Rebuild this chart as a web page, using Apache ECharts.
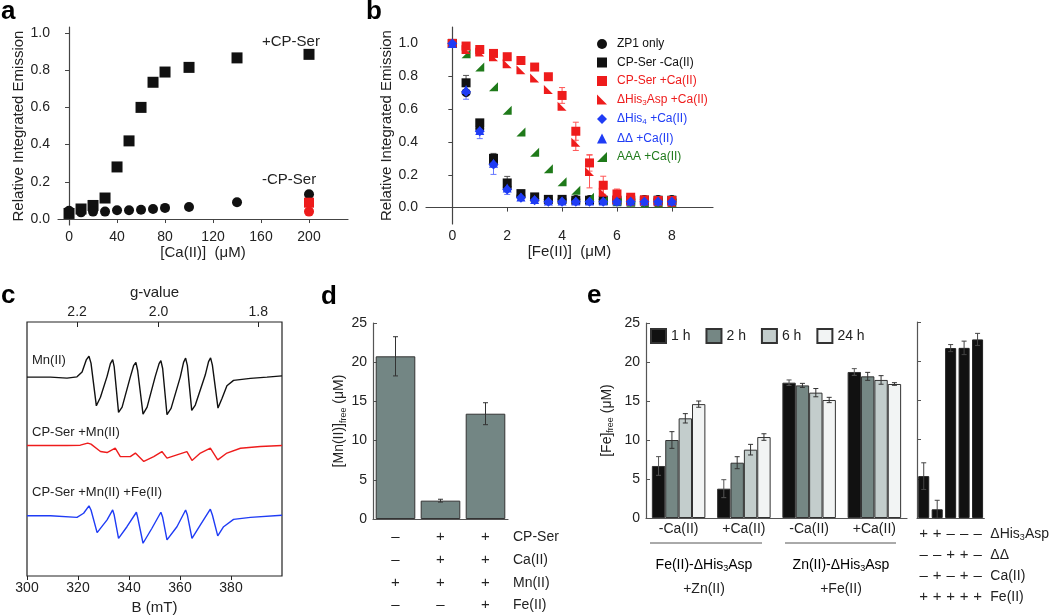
<!DOCTYPE html>
<html>
<head>
<meta charset="utf-8">
<script src="https://cdn.jsdelivr.net/npm/echarts@6/dist/echarts.min.js"></script>
<style>
  html, body { margin: 0; padding: 0; background: #fff; }
  #chart { width: 1050px; height: 616px; }
</style>
</head>
<body>
<div id="chart"></div>
<script>
// ---- panel a: Ca(II) titration ----
const caConc = [0, 10, 20, 30, 40, 50, 60, 70, 80, 100, 140, 200];
const plusCP = [0.03, 0.054, 0.073, 0.113, 0.28, 0.42, 0.60, 0.735, 0.79, 0.815, 0.866, 0.885];
const minusCP = [0.045, 0.036, 0.04, 0.04, 0.047, 0.047, 0.05, 0.054, 0.06, 0.065, 0.09, 0.133];
const redConc = [200];
const redSquare = [0.088];
const redCircle = [0.04];

// ---- panel b: Fe(II) titration ----
const feConc = [0, 0.5, 1, 1.5, 2, 2.5, 3, 3.5, 4, 4.5, 5, 5.5, 6, 6.5, 7, 7.5, 8];
const zp1Only = [1, 0.70, 0.48, 0.27, 0.12, 0.07, 0.055, 0.05, 0.05, 0.05, 0.05, 0.05, 0.05, 0.05, 0.05, 0.05, 0.05];
const cpSerNoCa = [1, 0.76, 0.516, 0.30, 0.15, 0.085, 0.065, 0.05, 0.05, 0.045, 0.045, 0.045, 0.045, 0.045, 0.045, 0.045, 0.045];
const cpSerCa = [1, 0.984, 0.963, 0.939, 0.919, 0.896, 0.856, 0.797, 0.683, 0.465, 0.272, 0.136, 0.083, 0.063, 0.047, 0.043, 0.043];
const his3AspCa = [1, 0.963, 0.947, 0.919, 0.876, 0.84, 0.789, 0.72, 0.618, 0.398, 0.22, 0.093, 0.047, 0.039, 0.039, 0.035, 0.033];
const his4Ca = [1, 0.705, 0.465, 0.262, 0.11, 0.06, 0.045, 0.035, 0.035, 0.035, 0.035, 0.035, 0.035, 0.035, 0.035, 0.035, 0.035];
const ddCa = [1, 0.72, 0.47, 0.27, 0.12, 0.065, 0.05, 0.04, 0.04, 0.04, 0.04, 0.04, 0.04, 0.04, 0.04, 0.04, 0.04];
const aaaCa = [1, 0.937, 0.856, 0.736, 0.593, 0.461, 0.337, 0.236, 0.157, 0.106, 0.063, 0.043, 0.035, 0.033, 0.028, 0.028, 0.028];
const errNoCa = [0, 0.045, 0.02, 0.03, 0.04, 0, 0, 0, 0, 0, 0, 0, 0, 0, 0, 0, 0];
const errHis4 = [0, 0.045, 0.045, 0.06, 0.03, 0, 0, 0, 0, 0, 0, 0, 0, 0, 0, 0, 0];
const errCpCa = [0, 0, 0, 0, 0, 0, 0, 0, 0.048, 0.055, 0.05, 0.055, 0.03, 0.02, 0, 0, 0];
const errHis3 = [0, 0, 0, 0, 0, 0, 0, 0, 0, 0.05, 0.1, 0.02, 0, 0, 0, 0, 0];

// ---- panel c: EPR traces [B (mT), signal] ----
const mnTrace = [[300,78.3],[309.2,78.3],[315.7,77.9],[319.6,78.4],[321.6,80.3],[323.3,85.2],[324.3,86.5],[325.1,83.8],[327.2,67.0],[328.8,70.4],[331.4,78.6],[332.7,83.6],[333.6,85.2],[334.2,82.3],[335.9,64.4],[337.3,66.5],[340.5,78.3],[341.8,82.8],[342.7,84.1],[343.4,80.9],[345.5,63.7],[347.1,66.5],[350.3,78.6],[351.8,83.6],[352.5,84.8],[353.2,81.7],[354.9,63.5],[356.5,66.0],[360.1,78.3],[361.4,84.1],[362.2,85.8],[362.9,82.8],[364.6,65.2],[366.0,67.3],[369.9,79.1],[371.2,84.4],[372.0,85.9],[372.7,83.0],[374.9,66.1],[376.5,70.0],[378.4,74.9],[381.0,77.0],[387.6,77.8],[394.1,78.3],[400,78.8]];
const cpMnTrace = [[300,51.4],[315.7,51.4],[320.9,51.5],[323.8,52.3],[325.1,51.9],[328.8,49.0],[331.4,48.6],[334.6,50.3],[336.6,47.0],[340.5,47.0],[342.5,48.4],[345.8,45.1],[349.7,47.0],[352.9,49.0],[354.9,46.4],[358.8,47.7],[362.7,49.0],[364.7,45.5],[368.0,48.4],[371.9,50.3],[374.8,45.7],[378.4,48.4],[383.7,50.3],[391.5,51.0],[400,51.4]];
const cpMnFeTrace = [[300,23.7],[309.2,23.7],[319.6,23.1],[322.2,24.7],[324.3,27.6],[325.1,26.0],[327.5,17.1],[331.4,22.1],[333.6,26.0],[334.2,24.0],[335.9,14.8],[339.2,19.4],[342.9,25.1],[343.4,23.1],[345.5,12.9],[349.0,18.8],[352.5,25.1],[353.2,23.1],[354.9,14.2],[358.8,19.4],[362.2,26.0],[362.9,24.0],[364.7,14.8],[368.0,20.1],[371.9,26.3],[372.7,24.0],[374.8,15.8],[377.1,19.4],[381.0,22.3],[387.6,23.1],[400,23.9]];
const bTicks = [300, 320, 340, 360, 380];
const gTicks = [2.2, 2.0, 1.8];
const hvConst = 703.2; // B(mT) * g

// ---- panel d ----
const mnFree = [20.75, 2.34, 13.43];
const mnErr = [2.5, 0.18, 1.4];
const dRowNames = ['CP-Ser', 'Ca(II)', 'Mn(II)', 'Fe(II)'];
const dRows = [['–', '+', '+'], ['–', '+', '+'], ['+', '+', '+'], ['–', '–', '+']];

// ---- panel e ----
const eCats = ['-Ca(II)', '+Ca(II)', '-Ca(II)', '+Ca(II)'];
const eTimes = ['1 h', '2 h', '6 h', '24 h'];
const fe1h = [6.67, 3.76, 17.35, 18.72];
const fe2h = [10.0, 7.09, 17.0, 18.16];
const fe6h = [12.78, 8.76, 16.07, 17.7];
const fe24h = [14.6, 10.38, 15.13, 17.18];
const err1h = [1.2, 1.15, 0.35, 0.43];
const err2h = [1.07, 0.77, 0.26, 0.51];
const err6h = [0.6, 0.68, 0.53, 0.55];
const err24h = [0.4, 0.42, 0.34, 0.17];
const feRight = [5.34, 1.11, 21.67, 21.7, 22.78];
const feRightErr = [1.7, 1.15, 0.45, 0.86, 0.77];
const eRowNames = ['{n|ΔHis}{s|3}{n|Asp}', 'ΔΔ', 'Ca(II)', 'Fe(II)'];
const eRows = [['+', '+', '–', '–', '–'], ['–', '–', '+', '+', '–'], ['–', '+', '–', '+', '–'], ['+', '+', '+', '+', '+']];

const FONT = '"Liberation Sans", Arial, sans-serif';
const TXT = '#222';
const AX = '#444';
const RED = '#ee1c1c';
const BLUE = '#1f3cf5';
const GREEN = '#1f7a1a';
const subRich = {
  n: { fontSize: 14, lineHeight: 16, color: TXT },
  s: { fontSize: 9, lineHeight: 6, verticalAlign: 'bottom', color: TXT }
};

const pairs = (xs, ys) => xs.map((x, i) => [x, ys[i]]);
const triples = (ys, es) => ys.map((y, i) => [i, y, es[i]]);
const triplesX = (xs, ys, es) => xs.map((x, i) => [x, ys[i], es[i]]);

function errRender(nSeries, idx, gapFrac, color, capHalf) {
  return function (params, api) {
    const c = api.value(0), v = api.value(1), e = api.value(2);
    if (!e) return;
    let off = 0;
    if (nSeries > 1) {
      const bw = api.size([1, 0])[0] * (1 - gapFrac) / nSeries;
      off = (idx - (nSeries - 1) / 2) * bw;
    }
    const p1 = api.coord([c, v + e]);
    const p2 = api.coord([c, v - e]);
    const x = p1[0] + off;
    const st = { stroke: color, lineWidth: 1 };
    return {
      type: 'group',
      children: [
        { type: 'line', shape: { x1: x, y1: p1[1], x2: x, y2: p2[1] }, style: st },
        { type: 'line', shape: { x1: x - capHalf, y1: p1[1], x2: x + capHalf, y2: p1[1] }, style: st },
        { type: 'line', shape: { x1: x - capHalf, y1: p2[1], x2: x + capHalf, y2: p2[1] }, style: st }
      ]
    };
  };
}

function rowAxis(grid, idx, rows, names, offset, gap) {
  return {
    gridIndex: grid, type: 'category', position: 'bottom', offset: offset,
    data: rows[idx].map((r, i) => String(i)),
    axisLine: { show: false }, axisTick: { show: false }, splitLine: { show: false },
    axisLabel: { margin: 0, verticalAlign: 'middle', fontSize: 15, color: TXT, formatter: (v, i) => rows[idx][i] },
    name: names[idx], nameLocation: 'end', nameGap: gap,
    nameTextStyle: { fontSize: 14, color: TXT, verticalAlign: 'middle', align: 'left', rich: subRich }
  };
}

function dot(name, xi, yi, symbol, size, color, data) {
  return { type: 'scatter', name: name, xAxisIndex: xi, yAxisIndex: yi, symbol: symbol, symbolSize: size,
    itemStyle: { color: color, opacity: 1 }, data: data };
}

const triLeft = 'path://M0,0 L0,10 L10,10 Z';
const triRight = 'path://M10,0 L10,10 L0,10 Z';

const chart = echarts.init(document.getElementById('chart'));
const option = {
  animation: false,
  backgroundColor: '#fff',
  textStyle: { fontFamily: FONT },
  grid: [
    { left: 58, top: 27, width: 290, height: 198 },
    { left: 426, top: 27, width: 287, height: 197 },
    { left: 27, top: 322, width: 255, height: 254, show: true, borderColor: '#222', borderWidth: 1.2 },
    { left: 373, top: 323, width: 135, height: 196 },
    { left: 646, top: 323, width: 261, height: 195 },
    { left: 917, top: 322, width: 71, height: 196 }
  ],
  xAxis: [
    { // 0 panel a
      gridIndex: 0, type: 'value', min: -9.2, max: 232.5,
      axisLine: { lineStyle: { color: AX, width: 1.2 } },
      axisTick: { length: 4, lineStyle: { color: AX }, customValues: [0, 40, 80, 120, 160, 200] },
      axisLabel: { fontSize: 14, color: TXT, margin: 5, customValues: [0, 40, 80, 120, 160, 200] },
      splitLine: { show: false },
      name: '[Ca(II)]  (μM)', nameLocation: 'middle', nameGap: 17, nameTextStyle: { fontSize: 15, color: TXT }
    },
    { // 1 panel b
      gridIndex: 1, type: 'value', min: -0.96, max: 9.5,
      axisLine: { lineStyle: { color: AX, width: 1.2 } },
      axisTick: { length: 4, lineStyle: { color: AX }, customValues: [0, 2, 4, 6, 8] },
      axisLabel: { fontSize: 14, color: TXT, margin: 5, customValues: [0, 2, 4, 6, 8] },
      splitLine: { show: false },
      name: '[Fe(II)]  (μM)', nameLocation: 'middle', nameGap: 17, nameTextStyle: { fontSize: 15, color: TXT }
    },
    { // 2 panel c bottom
      gridIndex: 2, type: 'value', min: 300, max: 400,
      axisLine: { show: false },
      axisTick: { length: 4, lineStyle: { color: '#222' }, customValues: bTicks },
      axisLabel: { fontSize: 14, color: TXT, margin: 5, customValues: bTicks },
      splitLine: { show: false },
      name: 'B (mT)', nameLocation: 'middle', nameGap: 24, nameTextStyle: { fontSize: 15, color: TXT }
    },
    { // 3 panel c top (g-value)
      gridIndex: 2, type: 'value', min: 300, max: 400, position: 'top',
      axisLine: { show: false },
      axisTick: { inside: true, length: 5, lineStyle: { color: '#222' }, customValues: gTicks.map(g => hvConst / g) },
      axisLabel: { fontSize: 14, color: TXT, margin: 3, customValues: gTicks.map(g => hvConst / g), formatter: v => (hvConst / v).toFixed(1) },
      splitLine: { show: false },
      name: 'g-value', nameLocation: 'middle', nameGap: 22, nameTextStyle: { fontSize: 15, color: TXT }
    },
    { // 4 panel d
      gridIndex: 3, type: 'category', data: ['0', '1', '2'],
      axisLine: { lineStyle: { color: '#555', width: 1.2 } }, axisTick: { show: false }, axisLabel: { show: false }
    },
    rowAxis(3, 0, dRows, dRowNames, 17.7, 5),
    rowAxis(3, 1, dRows, dRowNames, 41, 5),
    rowAxis(3, 2, dRows, dRowNames, 64.3, 5),
    rowAxis(3, 3, dRows, dRowNames, 86, 5),
    { // 9 panel e left
      gridIndex: 4, type: 'category', data: eCats.map((c, i) => String(i)),
      axisLine: { lineStyle: { color: '#555', width: 1.2 } }, axisTick: { show: false },
      axisLabel: { fontSize: 14, color: TXT, margin: 4, formatter: (v, i) => eCats[i] }
    },
    { // 10 panel e right
      gridIndex: 5, type: 'category', data: ['0', '1', '2', '3', '4'],
      axisLine: { lineStyle: { color: '#555', width: 1.2 } }, axisTick: { show: false }, axisLabel: { show: false }
    },
    rowAxis(5, 0, eRows, eRowNames, 16.3, 6),
    rowAxis(5, 1, eRows, eRowNames, 37.3, 6),
    rowAxis(5, 2, eRows, eRowNames, 58.3, 6),
    rowAxis(5, 3, eRows, eRowNames, 79.3, 6)
  ],
  yAxis: [
    {
      gridIndex: 0, type: 'value', min: -0.032, max: 1.032,
      axisLine: { show: true, lineStyle: { color: AX, width: 1.2 } },
      axisTick: { show: true, length: 4, lineStyle: { color: AX }, customValues: [0, 0.2, 0.4, 0.6, 0.8, 1.0] },
      axisLabel: { fontSize: 14, color: TXT, margin: 8, customValues: [0, 0.2, 0.4, 0.6, 0.8, 1.0], formatter: v => v.toFixed(1) },
      splitLine: { show: false },
      name: 'Relative Integrated Emission', nameLocation: 'middle', nameGap: 30, nameTextStyle: { fontSize: 15, color: TXT }
    },
    {
      gridIndex: 1, type: 'value', min: -0.1, max: 1.1,
      axisLine: { show: true, lineStyle: { color: AX, width: 1.2 } },
      axisTick: { show: true, length: 4, lineStyle: { color: AX }, customValues: [0, 0.2, 0.4, 0.6, 0.8, 1.0] },
      axisLabel: { fontSize: 14, color: TXT, margin: 8, customValues: [0, 0.2, 0.4, 0.6, 0.8, 1.0], formatter: v => v.toFixed(1) },
      splitLine: { show: false },
      name: 'Relative Integrated Emission', nameLocation: 'middle', nameGap: 30, nameTextStyle: { fontSize: 15, color: TXT }
    },
    { gridIndex: 2, type: 'value', min: 0, max: 100, show: false },
    {
      gridIndex: 3, type: 'value', min: 0, max: 25, interval: 5,
      axisLine: { show: true, lineStyle: { color: '#555', width: 1.2 } },
      axisTick: { show: true, inside: true, length: 4, lineStyle: { color: '#555' } },
      axisLabel: { fontSize: 14, color: TXT, margin: 6 },
      splitLine: { show: false },
      name: '{n|[Mn(II)]}{s|free}{n| (μM)}', nameLocation: 'middle', nameGap: 25,
      nameTextStyle: { rich: subRich }
    },
    {
      gridIndex: 4, type: 'value', min: 0, max: 25, interval: 5,
      axisLine: { show: true, lineStyle: { color: '#555', width: 1.2 } },
      axisTick: { show: true, inside: true, length: 4, lineStyle: { color: '#555' } },
      axisLabel: { fontSize: 14, color: TXT, margin: 6 },
      splitLine: { show: false },
      name: '{n|[Fe]}{s|free}{n| (μM)}', nameLocation: 'middle', nameGap: 31,
      nameTextStyle: { rich: subRich }
    },
    {
      gridIndex: 5, type: 'value', min: 0, max: 25, interval: 5,
      axisLine: { show: true, lineStyle: { color: '#555', width: 1.2 } },
      axisTick: { show: true, inside: true, length: 4, lineStyle: { color: '#555' } },
      axisLabel: { show: false },
      splitLine: { show: false }
    }
  ],
  legend: [
    {
      left: 597, top: 38, orient: 'vertical', padding: 0,
      itemWidth: 10, itemHeight: 10, itemGap: 6.5,
      textStyle: { fontSize: 12, padding: [0, 0, 0, 5], rich: {
        n: { fontSize: 12, lineHeight: 14 },
        s: { fontSize: 8, lineHeight: 5, verticalAlign: 'bottom' }
      } },
      formatter: name => {
        if (name.indexOf('ΔHis3') === 0) return '{n|ΔHis}{s|3}{n|Asp +Ca(II)}';
        if (name.indexOf('ΔHis4') === 0) return '{n|ΔHis}{s|4}{n| +Ca(II)}';
        return '{n|' + name + '}';
      },
      data: [
        { name: 'ZP1 only', icon: 'circle', textStyle: { color: '#111' } },
        { name: 'CP-Ser -Ca(II)', icon: 'rect', textStyle: { color: '#111' } },
        { name: 'CP-Ser +Ca(II)', icon: 'rect', textStyle: { color: RED } },
        { name: 'ΔHis3Asp +Ca(II)', icon: triLeft, textStyle: { color: RED } },
        { name: 'ΔHis4 +Ca(II)', icon: 'diamond', textStyle: { color: BLUE } },
        { name: 'ΔΔ +Ca(II)', icon: 'triangle', textStyle: { color: BLUE } },
        { name: 'AAA +Ca(II)', icon: triRight, textStyle: { color: GREEN } }
      ]
    },
    {
      left: 650, top: 328, orient: 'horizontal', padding: 0,
      itemWidth: 15, itemHeight: 14, itemGap: 15, icon: 'rect',
      textStyle: { fontSize: 14, color: TXT },
      data: eTimes
    }
  ],
  series: [
    // panel a
    dot('a +CP', 0, 0, 'rect', 11, '#111', pairs(caConc, plusCP)),
    dot('a -CP', 0, 0, 'circle', 10, '#111', pairs(caConc, minusCP)),
    dot('a red sq', 0, 0, 'rect', 10, RED, pairs(redConc, redSquare)),
    dot('a red ci', 0, 0, 'circle', 10, RED, pairs(redConc, redCircle)),
    // panel b error bars
    { type: 'custom', name: 'err noCa', xAxisIndex: 1, yAxisIndex: 1, z: 1, renderItem: errRender(1, 0, 0, '#555', 3), data: triplesX(feConc, cpSerNoCa, errNoCa) },
    { type: 'custom', name: 'err his4', xAxisIndex: 1, yAxisIndex: 1, z: 1, renderItem: errRender(1, 0, 0, '#6677ff', 3), data: triplesX(feConc, his4Ca, errHis4) },
    { type: 'custom', name: 'err cpCa', xAxisIndex: 1, yAxisIndex: 1, z: 1, renderItem: errRender(1, 0, 0, '#ff5555', 3), data: triplesX(feConc, cpSerCa, errCpCa) },
    { type: 'custom', name: 'err his3', xAxisIndex: 1, yAxisIndex: 1, z: 1, renderItem: errRender(1, 0, 0, '#ff5555', 3), data: triplesX(feConc, his3AspCa, errHis3) },
    // panel b points
    dot('ZP1 only', 1, 1, 'circle', 9, '#111', pairs(feConc, zp1Only)),
    dot('CP-Ser -Ca(II)', 1, 1, 'rect', 9, '#111', pairs(feConc, cpSerNoCa)),
    dot('AAA +Ca(II)', 1, 1, triRight, 9, GREEN, pairs(feConc, aaaCa)),
    dot('CP-Ser +Ca(II)', 1, 1, 'rect', 9, RED, pairs(feConc, cpSerCa)),
    dot('ΔHis3Asp +Ca(II)', 1, 1, triLeft, 9, RED, pairs(feConc, his3AspCa)),
    dot('ΔΔ +Ca(II)', 1, 1, 'triangle', 9, BLUE, pairs(feConc, ddCa)),
    dot('ΔHis4 +Ca(II)', 1, 1, 'diamond', 10, BLUE, pairs(feConc, his4Ca)),
    // panel c
    { type: 'line', name: 'Mn(II)', xAxisIndex: 2, yAxisIndex: 2, showSymbol: false, lineStyle: { color: '#111', width: 1.4 }, data: mnTrace },
    { type: 'line', name: 'CP-Ser +Mn(II)', xAxisIndex: 2, yAxisIndex: 2, showSymbol: false, lineStyle: { color: RED, width: 1.4 }, data: cpMnTrace },
    { type: 'line', name: 'CP-Ser +Mn(II) +Fe(II)', xAxisIndex: 2, yAxisIndex: 2, showSymbol: false, lineStyle: { color: BLUE, width: 1.4 }, data: cpMnFeTrace },
    // panel d
    { type: 'bar', name: 'Mn free', xAxisIndex: 4, yAxisIndex: 3, barCategoryGap: '12%', itemStyle: { color: '#738684', borderColor: '#333', borderWidth: 1 }, data: mnFree },
    { type: 'custom', name: 'Mn err', xAxisIndex: 4, yAxisIndex: 3, z: 3, renderItem: errRender(1, 0, 0, '#333', 2.5), data: triples(mnFree, mnErr) },
    // panel e left
    { type: 'bar', name: '1 h', xAxisIndex: 9, yAxisIndex: 4, barGap: '0%', barCategoryGap: '18%', itemStyle: { color: '#111', borderColor: '#333', borderWidth: 1 }, data: fe1h },
    { type: 'bar', name: '2 h', xAxisIndex: 9, yAxisIndex: 4, barGap: '0%', barCategoryGap: '18%', itemStyle: { color: '#758784', borderColor: '#333', borderWidth: 1 }, data: fe2h },
    { type: 'bar', name: '6 h', xAxisIndex: 9, yAxisIndex: 4, barGap: '0%', barCategoryGap: '18%', itemStyle: { color: '#c3cdcc', borderColor: '#333', borderWidth: 1 }, data: fe6h },
    { type: 'bar', name: '24 h', xAxisIndex: 9, yAxisIndex: 4, barGap: '0%', barCategoryGap: '18%', itemStyle: { color: '#f2f4f4', borderColor: '#333', borderWidth: 1 }, data: fe24h },
    { type: 'custom', name: 'e1', xAxisIndex: 9, yAxisIndex: 4, z: 3, renderItem: errRender(4, 0, 0.18, '#555', 2.5), data: triples(fe1h, err1h) },
    { type: 'custom', name: 'e2', xAxisIndex: 9, yAxisIndex: 4, z: 3, renderItem: errRender(4, 1, 0.18, '#333', 2.5), data: triples(fe2h, err2h) },
    { type: 'custom', name: 'e6', xAxisIndex: 9, yAxisIndex: 4, z: 3, renderItem: errRender(4, 2, 0.18, '#333', 2.5), data: triples(fe6h, err6h) },
    { type: 'custom', name: 'e24', xAxisIndex: 9, yAxisIndex: 4, z: 3, renderItem: errRender(4, 3, 0.18, '#333', 2.5), data: triples(fe24h, err24h) },
    // panel e right
    { type: 'bar', name: 'Fe right', xAxisIndex: 10, yAxisIndex: 5, barCategoryGap: '18%', itemStyle: { color: '#111', borderColor: '#222', borderWidth: 1 }, data: feRight },
    { type: 'custom', name: 'Fe right err', xAxisIndex: 10, yAxisIndex: 5, z: 3, renderItem: errRender(1, 0, 0, '#444', 2.5), data: triples(feRight, feRightErr) }
  ],
  graphic: [
    { type: 'text', style: { text: 'a', x: 1, y: 12, font: 'bold 26px ' + FONT, fill: '#000', verticalAlign: 'middle' } },
    { type: 'text', style: { text: 'b', x: 366, y: 12, font: 'bold 26px ' + FONT, fill: '#000', verticalAlign: 'middle' } },
    { type: 'text', style: { text: 'c', x: 1, y: 296, font: 'bold 26px ' + FONT, fill: '#000', verticalAlign: 'middle' } },
    { type: 'text', style: { text: 'd', x: 321, y: 297, font: 'bold 26px ' + FONT, fill: '#000', verticalAlign: 'middle' } },
    { type: 'text', style: { text: 'e', x: 587, y: 296, font: 'bold 26px ' + FONT, fill: '#000', verticalAlign: 'middle' } },
    { type: 'text', style: { text: '+CP-Ser', x: 262, y: 42, font: '15px ' + FONT, fill: TXT, verticalAlign: 'middle' } },
    { type: 'text', style: { text: '-CP-Ser', x: 262, y: 180, font: '15px ' + FONT, fill: TXT, verticalAlign: 'middle' } },
    { type: 'text', style: { text: 'Mn(II)', x: 32, y: 360, font: '13px ' + FONT, fill: TXT, verticalAlign: 'middle' } },
    { type: 'text', style: { text: 'CP-Ser +Mn(II)', x: 32, y: 432, font: '13px ' + FONT, fill: TXT, verticalAlign: 'middle' } },
    { type: 'text', style: { text: 'CP-Ser +Mn(II) +Fe(II)', x: 32, y: 492, font: '13px ' + FONT, fill: TXT, verticalAlign: 'middle' } },
    { type: 'line', shape: { x1: 650, y1: 543, x2: 762, y2: 543 }, style: { stroke: '#555', lineWidth: 1 } },
    { type: 'line', shape: { x1: 785, y1: 543, x2: 896, y2: 543 }, style: { stroke: '#555', lineWidth: 1 } },
    { type: 'text', style: { text: '{n|Fe(II)-ΔHis}{s|3}{n|Asp}', rich: subRich, x: 704, y: 565, align: 'center', verticalAlign: 'middle' } },
    { type: 'text', style: { text: '+Zn(II)', x: 704, y: 589, font: '14px ' + FONT, fill: TXT, align: 'center', verticalAlign: 'middle' } },
    { type: 'text', style: { text: '{n|Zn(II)-ΔHis}{s|3}{n|Asp}', rich: subRich, x: 841, y: 565, align: 'center', verticalAlign: 'middle' } },
    { type: 'text', style: { text: '+Fe(II)', x: 841, y: 589, font: '14px ' + FONT, fill: TXT, align: 'center', verticalAlign: 'middle' } }
  ]
};
chart.setOption(option);
</script>
</body>
</html>
